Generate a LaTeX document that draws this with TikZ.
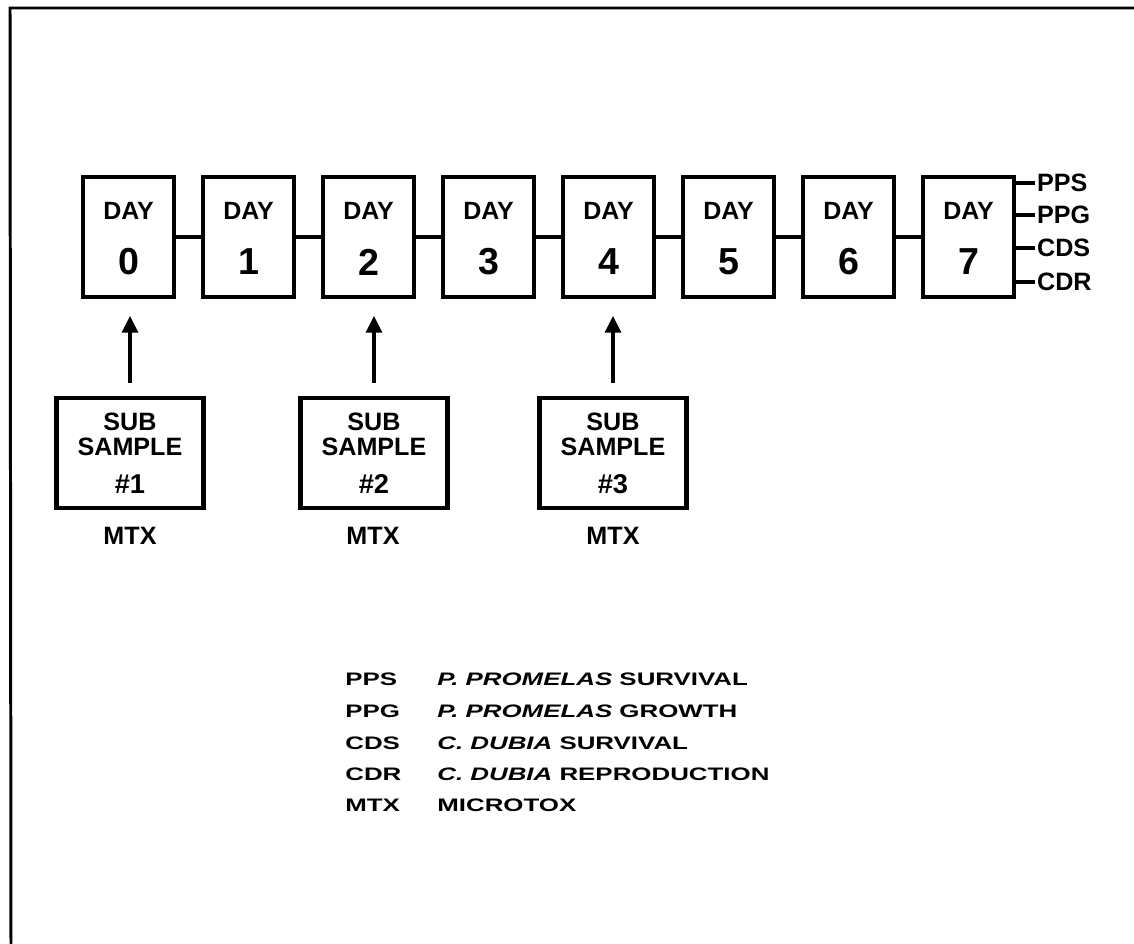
\documentclass[tikz,border=0pt]{standalone}
\usepackage{fontspec}
\setmainfont{Liberation Sans}
\newfontfamily\legendfont[FakeStretch=1.43]{Liberation Sans}
\usetikzlibrary{arrows.meta}

\begin{document}
\begin{tikzpicture}[x=0.02cm, y=-0.02cm,
  daybox/.style={draw, line width=2.3pt, minimum width=1.82cm, minimum height=2.4cm, inner sep=0pt},
  dayword/.style={font=\fontsize{14.2}{16}\selectfont\bfseries, inner sep=0pt},
  daynum/.style={font=\fontsize{21.4}{24}\selectfont\bfseries, inner sep=0pt},
  subbox/.style={draw, line width=2.3pt, minimum width=2.94cm, minimum height=2.2cm, align=center, font=\fontsize{14.3}{14.5}\selectfont\bfseries},
  tag/.style={font=\fontsize{14.3}{16}\selectfont\bfseries, inner sep=1pt},
  link/.style={line width=2.3pt},
  arr/.style={line width=2pt, -{Triangle[length=9.5pt, width=9pt]}},
  legend/.style={font=\fontsize{10.3}{12}\legendfont\bfseries, anchor=west, inner sep=0pt}]
  \useasboundingbox (0,0) rectangle (1134,944);
  % frame
  \draw[line width=1.7pt] (1134,8) -- (10,8) -- (11,944);

  % days
  \node[daybox] (d0) at (128.5,237) {};
  \node[dayword] (w0) at (128.5,211) {DAY};
  \node[daynum] (n0) at (128.5,262) {0};
  \node[daybox] (d1) at (248.5,237) {};
  \node[dayword] (w1) at (248.5,211) {DAY};
  \node[daynum] (n1) at (248.5,262) {1};
  \node[daybox] (d2) at (368.5,237) {};
  \node[dayword] (w2) at (368.5,211) {DAY};
  \node[daynum] (n2) at (368.5,262) {2};
  \node[daybox] (d3) at (488.5,237) {};
  \node[dayword] (w3) at (488.5,211) {DAY};
  \node[daynum] (n3) at (488.5,262) {3};
  \node[daybox] (d4) at (608.5,237) {};
  \node[dayword] (w4) at (608.5,211) {DAY};
  \node[daynum] (n4) at (608.5,262) {4};
  \node[daybox] (d5) at (728.5,237) {};
  \node[dayword] (w5) at (728.5,211) {DAY};
  \node[daynum] (n5) at (728.5,262) {5};
  \node[daybox] (d6) at (848.5,237) {};
  \node[dayword] (w6) at (848.5,211) {DAY};
  \node[daynum] (n6) at (848.5,262) {6};
  \node[daybox] (d7) at (968.5,237) {};
  \node[dayword] (w7) at (968.5,211) {DAY};
  \node[daynum] (n7) at (968.5,262) {7};
  \draw[link] (d0) -- (d1);
  \draw[link] (d1) -- (d2);
  \draw[link] (d2) -- (d3);
  \draw[link] (d3) -- (d4);
  \draw[link] (d4) -- (d5);
  \draw[link] (d5) -- (d6);
  \draw[link] (d6) -- (d7);

  % end points of day 7
  \node[tag, anchor=west] (pps) at (1035,183) {PPS};
  \node[tag, anchor=west] (ppg) at (1035,215) {PPG};
  \node[tag, anchor=west] (cds) at (1035,248) {CDS};
  \node[tag, anchor=west] (cdr) at (1035,282) {CDR};
  \draw[link] (d7.east |- pps.west) -- (pps.west);
  \draw[link] (d7.east |- ppg.west) -- (ppg.west);
  \draw[link] (d7.east |- cds.west) -- (cds.west);
  \draw[link] (d7.east |- cdr.west) -- (cdr.west);

  % sub samples
  \node[subbox] (s1) at (130,453) {SUB\\SAMPLE\\[7pt]{\fontsize{15.5}{14.5}\selectfont\#1}};
  \node[subbox] (s2) at (374,453) {SUB\\SAMPLE\\[7pt]{\fontsize{15.5}{14.5}\selectfont\#2}};
  \node[subbox] (s3) at (613,453) {SUB\\SAMPLE\\[7pt]{\fontsize{15.5}{14.5}\selectfont\#3}};
  \draw[arr, shorten <=7.4pt, shorten >=9.6pt] (s1.north) -- (s1.north |- d0.south);
  \draw[arr, shorten <=7.4pt, shorten >=9.6pt] (s2.north) -- (s2.north |- d2.south);
  \draw[arr, shorten <=7.4pt, shorten >=9.6pt] (s3.north) -- (s3.north |- d4.south);
  \node[tag] (m1) at (130,536) {MTX};
  \node[tag] (m2) at (373,536) {MTX};
  \node[tag] (m3) at (613,536) {MTX};

  % legend
  \node[legend] (k1) at (345,679) {PPS};
  \node[legend] (k2) at (345,711) {PPG};
  \node[legend] (k3) at (345,743) {CDS};
  \node[legend] (k4) at (345,774) {CDR};
  \node[legend] (k5) at (345,805) {MTX};
  \node[legend] (e1) at (437,679) {\textit{P. PROMELAS} SURVIVAL};
  \node[legend] (e2) at (437,711) {\textit{P. PROMELAS} GROWTH};
  \node[legend] (e3) at (437,743) {\textit{C. DUBIA} SURVIVAL};
  \node[legend] (e4) at (437,774) {\textit{C. DUBIA} REPRODUCTION};
  \node[legend] (e5) at (437,805) {MICROTOX};
\end{tikzpicture}
\end{document}
